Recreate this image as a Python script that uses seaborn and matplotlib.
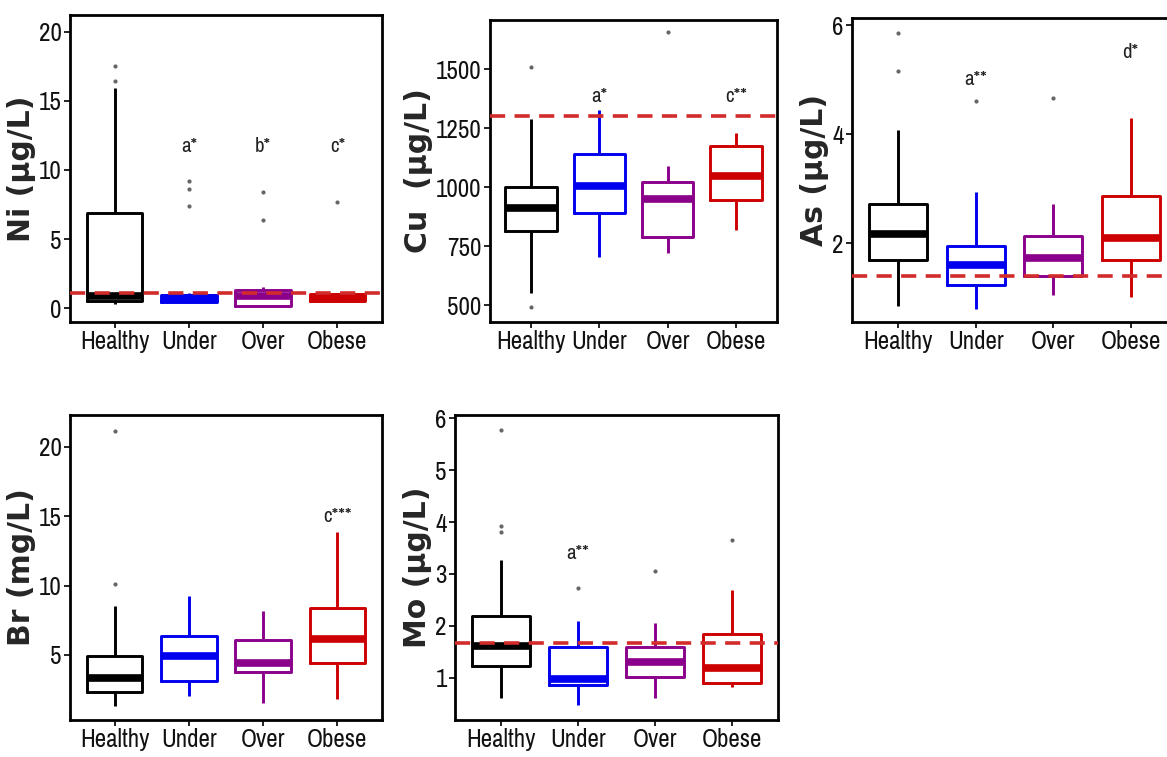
import matplotlib
matplotlib.use("Agg")
import matplotlib.pyplot as plt
from matplotlib import font_manager
import pandas as pd
import seaborn as sns

groups = ["Healthy", "Under", "Over", "Obese"]
group_colors = ["#000000", "#0000EE", "#8B008B", "#CC0000"]

# Per-group box summaries: [lower whisker, Q1, median, Q3, upper whisker]
ni_stats = [[0.3, 0.5, 0.85, 6.9, 15.9], [0.35, 0.45, 0.7, 0.95, 1.1],
            [0.05, 0.15, 0.9, 1.35, 1.5], [0.45, 0.5, 0.75, 1.0, 1.1]]
ni_outliers = [[16.4, 17.5], [7.4, 8.6, 9.2], [6.4, 8.4], [7.7]]
ni_limit = 1.1
ni_marks = ["", "a*", "b*", "c*"]
ni_mark_y = 11.7

cu_stats = [[550, 815, 913, 1000, 1288], [703, 890, 1005, 1138, 1328],
            [720, 790, 950, 1022, 1090], [818, 943, 1045, 1172, 1230]]
cu_outliers = [[490, 1510], [], [1658], []]
cu_limit = 1300
cu_marks = ["", "a*", "", "c**"]
cu_mark_y = 1385

as_stats = [[0.85, 1.69, 2.17, 2.71, 4.07], [0.78, 1.22, 1.6, 1.94, 2.94],
            [1.05, 1.4, 1.72, 2.12, 2.72], [1.0, 1.69, 2.09, 2.87, 4.3]]
as_outliers = [[5.15, 5.85], [4.6], [4.66], []]
as_limit = 1.4
as_marks = ["", "a**", "", "d*"]
as_mark_y = [0, 5.0, 0, 5.5]

br_stats = [[1.35, 2.35, 3.35, 4.95, 8.5], [2.05, 3.1, 4.95, 6.35, 9.25],
            [1.5, 3.8, 4.45, 6.05, 8.15], [1.85, 4.4, 6.15, 8.35, 13.85]]
br_outliers = [[10.15, 21.15], [], [], []]
br_marks = ["", "", "", "c***"]
br_mark_y = 14.95

mo_stats = [[0.62, 1.23, 1.62, 2.2, 3.27], [0.48, 0.87, 0.98, 1.6, 2.1],
            [0.62, 1.02, 1.3, 1.6, 2.05], [0.82, 0.9, 1.2, 1.85, 2.7]]
mo_outliers = [[3.8, 3.93, 5.77], [2.73], [3.06], [3.65]]
mo_limit = 1.68
mo_marks = ["", "a**", "", ""]
mo_mark_y = 3.4

sns.set_theme(style="white")

# Prefer a narrow sans for tick labels when one is installed
narrow_names = sorted(
    {f.name for f in font_manager.fontManager.ttflist
     if ("Narrow" in f.name or "Condensed" in f.name)}
)
narrow = narrow_names[0] if narrow_names else None
plt.rcParams["font.family"] = ([narrow] if narrow else []) + ["Liberation Sans", "DejaVu Sans"]

fig = plt.figure(figsize=(11.67, 7.57), dpi=100)
W, H = 1167, 757


def place(left, right, top, bottom):
    return fig.add_axes([left / W, 1 - bottom / H, (right - left) / W, (bottom - top) / H])


def panel(ax, stats, outliers, ylabel, ylim, yticks, limit, marks, mark_y):
    box_df = pd.DataFrame(
        [(g, v) for g, s in zip(groups, stats) for v in s], columns=["group", "value"]
    )
    sns.boxplot(
        data=box_df, x="group", y="value", hue="group", order=groups,
        hue_order=groups, palette=group_colors, fill=False, whis=(0, 100),
        width=0.75, linewidth=2.1, showcaps=False, showfliers=False,
        medianprops=dict(linewidth=5.5), legend=False, ax=ax,
    )
    out_df = pd.DataFrame(
        [(g, v) for g, o in zip(groups, outliers) for v in o], columns=["group", "value"]
    )
    if len(out_df):
        sns.stripplot(
            data=out_df, x="group", y="value", order=groups, jitter=False,
            color="#666666", size=3.0, linewidth=0, ax=ax,
        )
    if limit is not None:
        ax.axhline(limit, color="#D22B2B", lw=2.6, ls=(0, (4.2, 2.6)), zorder=6)
    ys = mark_y if isinstance(mark_y, list) else [mark_y] * len(groups)
    for i, (m, y) in enumerate(zip(marks, ys)):
        if m:
            ax.text(i, y, m, ha="center", va="center", fontsize=15, color="#222222")
    ax.set_xlim(-0.6, 3.6)
    ax.set_ylim(*ylim)
    ax.set_yticks(yticks)
    ax.set_xlabel("")
    ax.set_ylabel(ylabel, family="DejaVu Sans", fontweight="bold", fontsize=21.5,
                  labelpad=2)
    ax.tick_params(axis="both", direction="out", length=4, width=1.3, pad=2,
                   labelsize=18 if narrow else 17, colors="#111111",
                   left=True, bottom=True)
    for sp in ax.spines.values():
        sp.set_visible(True)
        sp.set_color("#000000")
        sp.set_linewidth(2.0)


ax1 = place(70, 382, 15, 322)
panel(ax1, ni_stats, ni_outliers, "Ni (µg/L)", (-1.0, 21.2), [0, 5, 10, 15, 20],
      ni_limit, ni_marks, ni_mark_y)

ax2 = place(490, 777, 20, 322)
panel(ax2, cu_stats, cu_outliers, "Cu  (µg/L)", (428, 1708), [500, 750, 1000, 1250, 1500],
      cu_limit, cu_marks, cu_mark_y)

ax3 = place(852, 1177, 18, 322)
panel(ax3, as_stats, as_outliers, "As (µg/L)", (0.55, 6.13), [2, 4, 6],
      as_limit, as_marks, as_mark_y)

ax4 = place(70, 382, 415, 720)
panel(ax4, br_stats, br_outliers, "Br (mg/L)", (0.31, 22.3), [5, 10, 15, 20],
      None, br_marks, br_mark_y)

ax5 = place(455, 778, 415, 720)
panel(ax5, mo_stats, mo_outliers, "Mo (µg/L)", (0.19, 6.06), [1, 2, 3, 4, 5, 6],
      mo_limit, mo_marks, mo_mark_y)

fig.savefig("out.png", dpi=100)
